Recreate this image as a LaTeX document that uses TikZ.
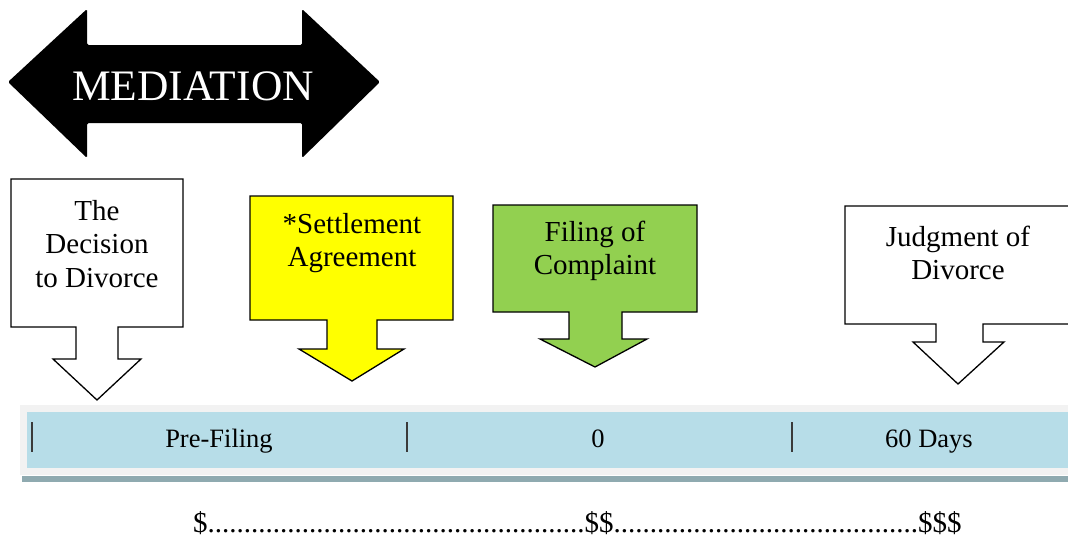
\documentclass[tikz,border=0pt]{standalone}
\usepackage{fontspec}
\setmainfont{Liberation Serif}
\definecolor{calloutyellow}{HTML}{FFFF00}
\definecolor{calloutgreen}{HTML}{92D050}
\definecolor{bandblue}{HTML}{B7DDE8}
\definecolor{bandgrey}{HTML}{F2F2F2}
\definecolor{bandshadow}{HTML}{8FAAB0}
\definecolor{tickgrey}{HTML}{3A3A3A}
\newcommand{\dotrun}[1]{\foreach \i in {1,...,#1}{.}}
\begin{document}
\begin{tikzpicture}[x=1pt,y=-1pt,
  callout/.style={draw=black, line width=1.3pt, line join=miter},
  boxtext/.style={font=\fontsize{29}{33.5}\selectfont, align=center, inner sep=0pt},
  bartext/.style={font=\fontsize{26.5}{30}\selectfont, inner sep=0pt, anchor=base},
  tick/.style={draw=tickgrey, line width=1.1pt}]
\useasboundingbox (0,0) rectangle (1068,538);
\clip (0,0) rectangle (1068,538);
% mediation double arrow
\fill[black, rounded corners=1.5pt] (8,82) -- (87,9) -- (87,45) -- (302,45) -- (302,9) -- (380,82)
  -- (302,158) -- (302,123) -- (87,123) -- (87,158) -- cycle;
\node[text=white, font=\fontsize{43.5}{50}\selectfont, inner sep=0pt] (med) at (193,86) {MEDIATION};
% callout 1
\draw[callout, fill=white] (11,179) -- (183,179) -- (183,327) -- (118,327) -- (118,359) -- (141,359)
  -- (97,400) -- (53,359) -- (76,359) -- (76,327) -- (11,327) -- cycle;
\node[boxtext] (decision) at (97,244) {The\\Decision\\to Divorce};
% callout 2
\draw[callout, fill=calloutyellow] (250,196) -- (453,196) -- (453,320) -- (377,320) -- (377,349) -- (404,349)
  -- (352,381) -- (299,349) -- (327,349) -- (327,320) -- (250,320) -- cycle;
\node[boxtext] (settle) at (352,243) {*Settlement\\Agreement};
% callout 3
\draw[callout, fill=calloutgreen] (493,205) -- (697,205) -- (697,312) -- (622,312) -- (622,339) -- (647,339)
  -- (595,367) -- (540,339) -- (569,339) -- (569,312) -- (493,312) -- cycle;
\node[boxtext] (filing) at (595,251) {Filing of\\Complaint};
% callout 4
\draw[callout, fill=white] (845,206) -- (1071,206) -- (1071,324) -- (983,324) -- (983,342) -- (1004,342)
  -- (958,384) -- (913,342) -- (936,342) -- (936,324) -- (845,324) -- cycle;
\node[boxtext] (judgment) at (958,253) {Judgment of\\Divorce};
% timeline bar
\fill[bandgrey] (20,405) rectangle (1075,475);
\fill[bandblue] (27,412) rectangle (1075,468);
\fill[bandshadow] (22,476) rectangle (1075,482);
\coordinate (t1a) at (32,422); \coordinate (t1b) at (32,452);
\coordinate (t2a) at (407,422); \coordinate (t2b) at (407,452);
\coordinate (t3a) at (792,422); \coordinate (t3b) at (792,452);
\draw[tick] (t1a) -- (t1b);
\draw[tick] (t2a) -- (t2b);
\draw[tick] (t3a) -- (t3b);
\node[bartext] (prefiling) at (219,447) {Pre-Filing};
\node[bartext] (zero) at (598,447) {0};
\node[bartext] (sixty) at (929,447) {60 Days};
% cost line
\node[font=\fontsize{29}{33}\selectfont, inner sep=0pt, anchor=base west] (cost) at (193,532)
  {\$\dotrun{52}\$\$\dotrun{42}\$\$\$};
\end{tikzpicture}
\end{document}
